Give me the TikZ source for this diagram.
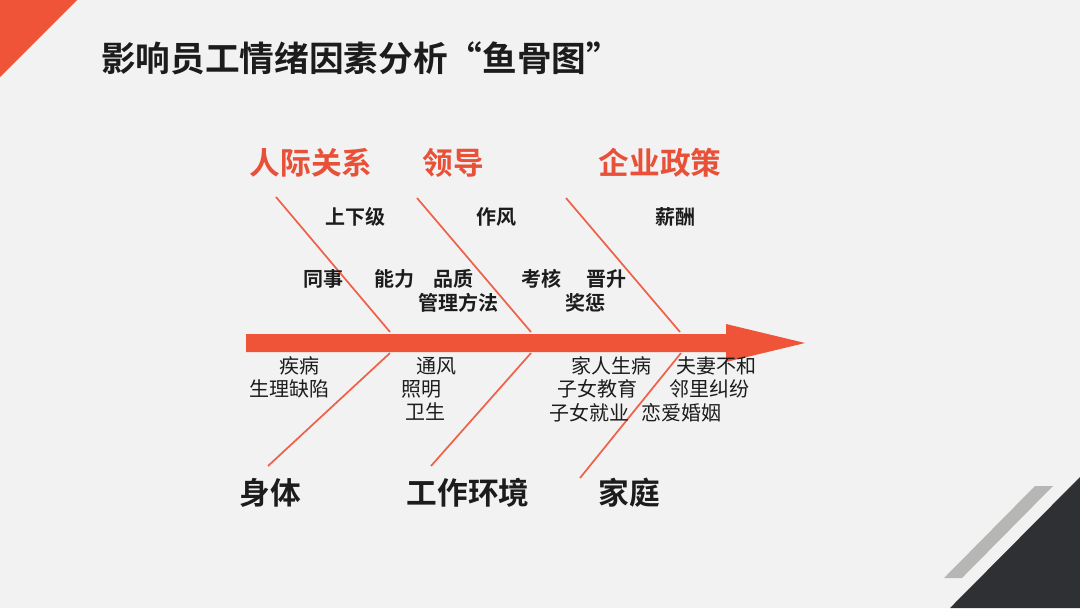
\documentclass[tikz,border=0pt]{standalone}
\usepackage{fontspec}
\newfontfamily\cjk{Noto Sans CJK SC}[BoldFont={Noto Sans CJK SC Bold}]
\definecolor{bgc}{RGB}{242,242,242}
\definecolor{fishred}{RGB}{240,84,56}
\definecolor{bonered}{RGB}{238,98,74}
\definecolor{labred}{RGB}{232,80,56}
\definecolor{darkc}{RGB}{46,48,51}
\definecolor{stripec}{RGB}{182,182,180}
\definecolor{txt}{RGB}{28,28,28}
\begin{document}
\begin{tikzpicture}[x=0.75pt,y=-0.75pt,
  titletext/.style={font=\cjk\bfseries\fontsize{26}{30}\selectfont, text=txt, inner sep=0pt},
  cat/.style={font=\cjk\bfseries\fontsize{23}{27}\selectfont, text=labred, inner sep=0pt},
  catb/.style={font=\cjk\bfseries\fontsize{23}{27}\selectfont, text=txt, inner sep=0pt},
  sub/.style={font=\cjk\bfseries\fontsize{15}{18}\selectfont, text=txt, inner sep=0pt},
  subn/.style={font=\cjk\fontsize{15}{18}\selectfont, text=txt, inner sep=0pt},
  bone/.style={draw=bonered, line width=1.3pt}]
\useasboundingbox (0,0) rectangle (1080,608);
\fill[bgc] (0,0) rectangle (1080,608);
% corner decorations
\fill[fishred] (0,0) -- (77,0) -- (0,77) -- cycle;
\fill[darkc] (1080,477) -- (950,608) -- (1080,608) -- cycle;
\fill[stripec] (1035,486) -- (1053,486) -- (962,578) -- (944,578) -- cycle;
% title
\node[titletext, anchor=west] (title) at (101,58) {影响员工情绪因素分析“鱼骨图”};
% spine arrow
\coordinate (tail) at (246,343);
\coordinate (tip) at (805,343);
\fill[fishred] (246,334) -- (726,334) -- (726,324) -- (tip) -- (726,362) -- (726,352) -- (246,352) -- cycle;
% bone coordinates
\coordinate (u1s) at (276,197); \coordinate (u1e) at (390,332);
\coordinate (u2s) at (417,198); \coordinate (u2e) at (531,332);
\coordinate (u3s) at (566,198); \coordinate (u3e) at (680,332);
\coordinate (l1s) at (390,353); \coordinate (l1e) at (268,466);
\coordinate (l2s) at (531,353); \coordinate (l2e) at (431,466);
\coordinate (l3s) at (681,353); \coordinate (l3e) at (580,478);
\draw[bone] (u1s) -- (u1e);
\draw[bone] (u2s) -- (u2e);
\draw[bone] (u3s) -- (u3e);
\draw[bone] (l1s) -- (l1e);
\draw[bone] (l2s) -- (l2e);
\draw[bone] (l3s) -- (l3e);
% category labels
\node[cat] (c1) at (311,163) {人际关系};
\node[cat] (c2) at (453,163) {领导};
\node[cat] (c3) at (660,163) {企业政策};
\node[catb] (c4) at (270,493) {身体};
\node[catb] (c5) at (468,493) {工作环境};
\node[catb] (c6) at (629,493) {家庭};
% upper causes
\node[sub] (s1) at (355,217) {上下级};
\node[sub] (s2) at (496,217) {作风};
\node[sub] (s3) at (675,217) {薪酬};
\node[sub] (s4) at (323,279) {同事};
\node[sub] (s5) at (394,279) {能力};
\node[sub] (s6) at (453,279) {品质};
\node[sub] (s7) at (458,303) {管理方法};
\node[sub] (s8) at (541,279) {考核};
\node[sub] (s9) at (606,279) {晋升};
\node[sub] (s10) at (585,303) {奖惩};
% lower causes
\node[subn] (n1) at (299,366) {疾病};
\node[subn] (n2) at (289,389) {生理缺陷};
\node[subn] (n3) at (436,366) {通风};
\node[subn] (n4) at (421,389) {照明};
\node[subn] (n5) at (425,412) {卫生};
\node[subn] (n6) at (611,366) {家人生病};
\node[subn] (n7) at (597,389) {子女教育};
\node[subn] (n8) at (589,413) {子女就业};
\node[subn] (n9) at (716,366) {夫妻不和};
\node[subn] (n10) at (709,389) {邻里纠纷};
\node[subn] (n11) at (681,413) {恋爱婚姻};
\end{tikzpicture}
\end{document}
